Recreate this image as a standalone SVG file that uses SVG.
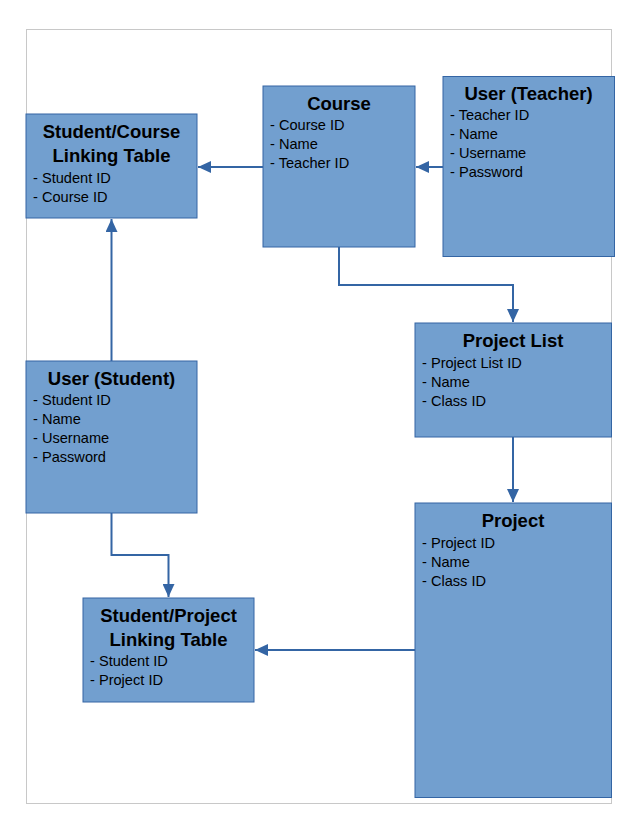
<svg xmlns="http://www.w3.org/2000/svg" width="638" height="830" viewBox="0 0 638 830">
<style>
.box{fill:#729fcf;stroke:#3465a4;stroke-width:1}
.t{font-family:"Liberation Sans",Arial,sans-serif;font-weight:bold;font-size:18.5px;fill:#000;text-anchor:middle}
.i{font-family:"Liberation Sans",Arial,sans-serif;font-size:14.6px;fill:#000}
.c{fill:none;stroke:#3465a4;stroke-width:2}
</style>
<defs>
<marker id="ah" markerUnits="userSpaceOnUse" markerWidth="14" markerHeight="12" viewBox="0 0 14 12" refX="13" refY="6" orient="auto">
<path d="M0,0 L13,6 L0,12 Z" fill="#3465a4"/>
</marker>
</defs>
<rect x="26.5" y="29.5" width="585" height="774" fill="#fff" stroke="#c8c8c8" stroke-width="1"/>
<g id="connectors">
<path class="c" d="M263,167 H198" marker-end="url(#ah)"/>
<path class="c" d="M443,167 H416" marker-end="url(#ah)"/>
<path class="c" d="M339,247 V285 H513 V322" marker-end="url(#ah)"/>
<path class="c" d="M513,437 V502" marker-end="url(#ah)"/>
<path class="c" d="M111.5,361 V219" marker-end="url(#ah)"/>
<path class="c" d="M111.5,513 V555 H168.5 V597" marker-end="url(#ah)"/>
<path class="c" d="M415,650 H255" marker-end="url(#ah)"/>
</g>
<g id="student-course">
<rect class="box" x="26" y="114" width="171" height="104"/>
<text class="t" x="111.5" y="138">Student/Course</text>
<text class="t" x="111.5" y="162">Linking Table</text>
<text class="i" x="33" y="183">- Student ID</text>
<text class="i" x="33" y="202">- Course ID</text>
</g>
<g id="course">
<rect class="box" x="263" y="86" width="152" height="161"/>
<text class="t" x="339" y="109.5">Course</text>
<text class="i" x="270" y="129.5">- Course ID</text>
<text class="i" x="270" y="148.5">- Name</text>
<text class="i" x="270" y="167.5">- Teacher ID</text>
</g>
<g id="user-teacher">
<rect class="box" x="443" y="76.5" width="171.5" height="180"/>
<text class="t" x="528.5" y="100">User (Teacher)</text>
<text class="i" x="450" y="120">- Teacher ID</text>
<text class="i" x="450" y="139">- Name</text>
<text class="i" x="450" y="158">- Username</text>
<text class="i" x="450" y="177">- Password</text>
</g>
<g id="project-list">
<rect class="box" x="415" y="323" width="196.5" height="114"/>
<text class="t" x="513" y="347">Project List</text>
<text class="i" x="422" y="367.5">- Project List ID</text>
<text class="i" x="422" y="386.5">- Name</text>
<text class="i" x="422" y="405.5">- Class ID</text>
</g>
<g id="project">
<rect class="box" x="415" y="503" width="196.5" height="294.5"/>
<text class="t" x="513" y="527">Project</text>
<text class="i" x="422" y="547.5">- Project ID</text>
<text class="i" x="422" y="566.5">- Name</text>
<text class="i" x="422" y="585.5">- Class ID</text>
</g>
<g id="user-student">
<rect class="box" x="26" y="361" width="171" height="152"/>
<text class="t" x="111.5" y="385">User (Student)</text>
<text class="i" x="33" y="404.5">- Student ID</text>
<text class="i" x="33" y="423.5">- Name</text>
<text class="i" x="33" y="442.5">- Username</text>
<text class="i" x="33" y="461.5">- Password</text>
</g>
<g id="student-project">
<rect class="box" x="83" y="598" width="171" height="104"/>
<text class="t" x="168.5" y="622">Student/Project</text>
<text class="t" x="168.5" y="646">Linking Table</text>
<text class="i" x="90" y="666">- Student ID</text>
<text class="i" x="90" y="685">- Project ID</text>
</g>
</svg>
